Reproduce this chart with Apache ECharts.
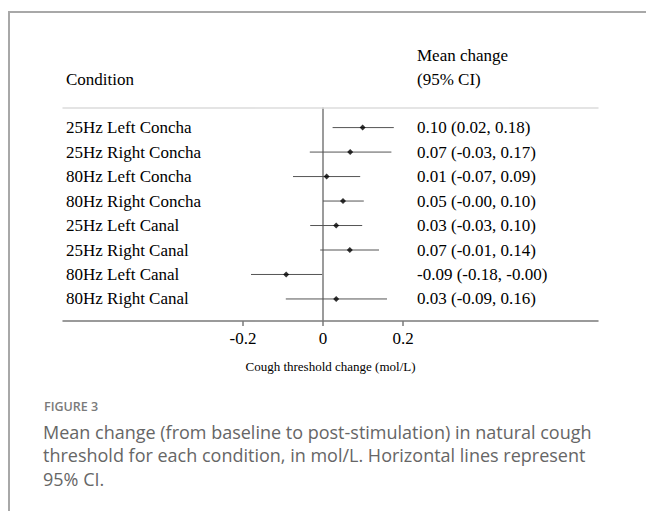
<!DOCTYPE html>
<html>
<head>
<meta charset="utf-8">
<script src="https://cdn.jsdelivr.net/npm/echarts@6/dist/echarts.min.js"></script>
<style>
    html, body { margin: 0; padding: 0; background: #fff; }
    #chart { width: 646px; height: 511px; }
</style>
</head>
<body>
<div id="chart"></div>
<script>
// 数据
var conditions = ['25Hz Left Concha', '25Hz Right Concha', '80Hz Left Concha', '80Hz Right Concha',
    '25Hz Left Canal', '25Hz Right Canal', '80Hz Left Canal', '80Hz Right Canal'];
var meanChange = [0.099, 0.068, 0.009, 0.05, 0.033, 0.067, -0.092, 0.033];
var ciLower = [0.024, -0.033, -0.075, 0.0, -0.032, -0.007, -0.18, -0.093];
var ciUpper = [0.177, 0.171, 0.093, 0.102, 0.098, 0.14, -0.002, 0.16];
var ciText = ['0.10 (0.02, 0.18)', '0.07 (-0.03, 0.17)', '0.01 (-0.07, 0.09)', '0.05 (-0.00, 0.10)',
    '0.03 (-0.03, 0.10)', '0.07 (-0.01, 0.14)', '-0.09 (-0.18, -0.00)', '0.03 (-0.09, 0.16)'];
var xTicks = [-0.2, 0, 0.2];

var serif = '"Liberation Serif", "Times New Roman", serif';
var sans = '"Open Sans", "Noto Sans", sans-serif';
var rowIdx = conditions.map(function (c, i) { return i; });

var chart = echarts.init(document.getElementById('chart'), null, { renderer: 'svg' });

var yRange = { min: -0.8, max: 7.9 };// 行的位置

var option = {
    animation: false,
    grid: { left: 63, right: 48, top: 108, bottom: 190 },
    xAxis: [
        {// 底部坐标轴
            type: 'value', position: 'bottom',
            min: -0.65, max: 0.6875,
            splitLine: { show: false },
            axisLine: { onZero: false, lineStyle: { color: '#7a7a7a', width: 1.5 } },
            axisTick: { customValues: xTicks, length: 5, lineStyle: { color: '#7a7a7a', width: 1.5 } },
            axisLabel: {
                customValues: xTicks, margin: 9, color: '#000',
                fontFamily: serif, fontSize: 17,
                formatter: function (v) { return v === 0 ? '0' : String(v); }
            },
            name: 'Cough threshold change (mol/L)',
            nameLocation: 'middle', nameGap: 39,
            nameTextStyle: { fontFamily: serif, fontSize: 13, color: '#000' }
        },
        {// 顶部分隔线
            type: 'value', position: 'top',
            min: -0.65, max: 0.6875,
            splitLine: { show: false },
            axisLine: { onZero: false, lineStyle: { color: '#dcdcdc', width: 1.5 } },
            axisTick: { show: false },
            axisLabel: { show: false }
        }
    ],
    yAxis: [
        {// 0 处的竖线
            type: 'value', inverse: true, min: yRange.min, max: yRange.max,
            splitLine: { show: false },
            axisLine: { show: true, onZero: true, onZeroAxisIndex: 0, lineStyle: { color: '#7a7a7a', width: 1.5 } },
            axisTick: { show: false },
            axisLabel: { show: false }
        },
        {// 左侧条件名称
            type: 'value', inverse: true, min: yRange.min, max: yRange.max, position: 'left',
            splitLine: { show: false },
            axisLine: { show: false, onZero: false },
            axisTick: { show: false },
            axisLabel: {
                customValues: rowIdx, align: 'left', margin: -3,
                fontFamily: serif, fontSize: 17, color: '#000',
                formatter: function (v) { return conditions[v]; }
            }
        },
        {// 右侧均值与置信区间
            type: 'value', inverse: true, min: yRange.min, max: yRange.max, position: 'right',
            splitLine: { show: false },
            axisLine: { show: false, onZero: false },
            axisTick: { show: false },
            axisLabel: {
                customValues: rowIdx, align: 'left', margin: -181,
                fontFamily: serif, fontSize: 17, color: '#000',
                formatter: function (v) { return ciText[v]; }
            }
        }
    ],
    graphic: [
        {// 外框
            type: 'polyline', silent: true,
            shape: { points: [[9, 511], [9, 12], [646, 12]] },
            style: { stroke: '#a8a8a8', lineWidth: 2, fill: null }
        },
        { type: 'text', left: 417, top: 47, style: { text: 'Mean change', font: '17px ' + serif, fill: '#000' } },
        { type: 'text', left: 417, top: 71, style: { text: '(95% CI)', font: '17px ' + serif, fill: '#000' } },
        { type: 'text', left: 66, top: 71, style: { text: 'Condition', font: '17px ' + serif, fill: '#000' } },
        { type: 'text', left: 44, top: 400, style: { text: 'FIGURE 3', font: '600 12.5px ' + sans, fill: '#7a7a7a' } },
        {
            type: 'text', left: 43, top: 420,
            style: {
                text: 'Mean change (from baseline to post-stimulation) in natural cough\nthreshold for each condition, in mol/L. Horizontal lines represent\n95% CI.',
                font: '18px ' + sans, lineHeight: 23.5, fill: '#666'
            }
        }
    ],
    series: [
        {// 置信区间横线
            type: 'custom',
            data: rowIdx.map(function (i) { return [ciLower[i], ciUpper[i], i]; }),
            renderItem: function (params, api) {
                var a = api.coord([api.value(0), api.value(2)]);
                var b = api.coord([api.value(1), api.value(2)]);
                return {
                    type: 'line',
                    shape: { x1: a[0], y1: a[1], x2: b[0], y2: b[1] },
                    style: { stroke: '#555', lineWidth: 1 }
                };
            },
            z: 3
        },
        {// 均值点
            type: 'scatter',
            data: rowIdx.map(function (i) { return [meanChange[i], i]; }),
            symbol: 'diamond', symbolSize: 6,
            itemStyle: { color: '#000' },
            z: 4
        }
    ]
};

chart.setOption(option);
</script>
</body>
</html>
